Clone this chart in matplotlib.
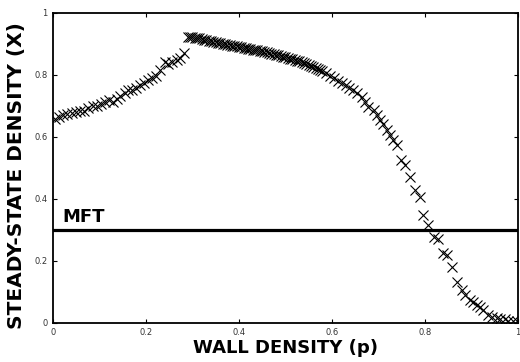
import matplotlib
matplotlib.use("Agg")
import matplotlib.pyplot as plt

# Wall density (p) and steady-state density (X)
p_left = [0.004, 0.013, 0.022, 0.031, 0.040, 0.049, 0.058, 0.067, 0.076, 0.085,
          0.094, 0.103, 0.112, 0.121, 0.128, 0.137, 0.145, 0.154, 0.162, 0.170,
          0.178, 0.187, 0.196, 0.205, 0.213, 0.221, 0.230, 0.241, 0.248, 0.255,
          0.266, 0.274, 0.281]
x_left = [0.657, 0.665, 0.670, 0.674, 0.676, 0.679, 0.682, 0.684, 0.692, 0.699,
          0.700, 0.706, 0.712, 0.718, 0.713, 0.722, 0.730, 0.742, 0.750, 0.752,
          0.757, 0.767, 0.772, 0.783, 0.788, 0.795, 0.815, 0.842, 0.835, 0.842,
          0.847, 0.855, 0.869]

p_mid = [0.290, 0.295, 0.300, 0.305, 0.310, 0.315, 0.320, 0.325, 0.330, 0.335,
         0.340, 0.345, 0.350, 0.355, 0.360, 0.365, 0.370, 0.375, 0.380, 0.385,
         0.390, 0.395, 0.400, 0.405, 0.410, 0.415, 0.420, 0.425, 0.430, 0.435,
         0.440, 0.445, 0.450, 0.455, 0.460, 0.465, 0.470, 0.475, 0.480, 0.485,
         0.490, 0.495, 0.500, 0.505, 0.510, 0.515, 0.520, 0.525, 0.530, 0.535,
         0.540, 0.545, 0.550, 0.555, 0.560, 0.565, 0.570, 0.575, 0.580]
x_mid = [0.922, 0.921, 0.920, 0.919, 0.918, 0.917, 0.916, 0.913, 0.912, 0.910,
         0.908, 0.907, 0.905, 0.903, 0.902, 0.900, 0.898, 0.897, 0.895, 0.894,
         0.892, 0.891, 0.890, 0.888, 0.887, 0.885, 0.884, 0.882, 0.881, 0.879,
         0.878, 0.876, 0.875, 0.873, 0.872, 0.870, 0.868, 0.866, 0.864, 0.862,
         0.860, 0.858, 0.856, 0.854, 0.852, 0.850, 0.848, 0.845, 0.843, 0.841,
         0.838, 0.835, 0.832, 0.829, 0.826, 0.822, 0.819, 0.816, 0.812]

p_right = [0.587, 0.596, 0.605, 0.613, 0.622, 0.630, 0.638, 0.646, 0.655, 0.664,
           0.672, 0.679, 0.690, 0.697, 0.704, 0.711, 0.718, 0.725, 0.732, 0.740,
           0.750, 0.758, 0.768, 0.779, 0.790, 0.797, 0.808, 0.819, 0.829, 0.840,
           0.847, 0.858, 0.869, 0.880, 0.887, 0.898, 0.905, 0.912, 0.919, 0.926,
           0.937, 0.944, 0.955, 0.962, 0.973, 0.980, 0.991, 0.998]
x_right = [0.806, 0.797, 0.789, 0.781, 0.772, 0.766, 0.758, 0.751, 0.740, 0.729,
           0.712, 0.697, 0.686, 0.670, 0.654, 0.640, 0.622, 0.606, 0.589, 0.573,
           0.525, 0.508, 0.471, 0.428, 0.406, 0.347, 0.315, 0.277, 0.270, 0.224,
           0.218, 0.181, 0.132, 0.105, 0.089, 0.073, 0.068, 0.057, 0.052, 0.041,
           0.025, 0.017, 0.014, 0.011, 0.011, 0.006, 0.004, 0.006]

mft_value = 0.3
mft_label = "MFT"
x_ticks = [0, 0.2, 0.4, 0.6, 0.8, 1]
x_tick_labels = ["0", "0.2", "0.4", "0.6", "0.8", "1"]
y_ticks = [0, 0.2, 0.4, 0.6, 0.8, 1]
y_tick_labels = ["0", "0.2", "0.4", "0.6", "0.8", "1"]

fig = plt.figure(figsize=(5.2, 3.62), dpi=100)
ax = fig.add_axes([0.102, 0.1086, 0.8934, 0.8564])

p_all = p_left + p_mid + p_right
x_all = x_left + x_mid + x_right
ax.plot(p_all, x_all, linestyle="none", marker="x", color="black",
        markersize=7.5, markeredgewidth=0.8)
ax.axhline(mft_value, color="black", linewidth=2.3)
ax.text(0.02, 0.326, mft_label, fontsize=13, fontweight="bold",
        family="DejaVu Sans", va="baseline", ha="left")

ax.set_xlim(0, 1)
ax.set_ylim(0, 1)
ax.set_xticks(x_ticks)
ax.set_xticklabels(x_tick_labels)
ax.set_yticks(y_ticks)
ax.set_yticklabels(y_tick_labels)
ax.tick_params(direction="in", length=3, width=0.8, labelsize=6,
               labelcolor="#333333", top=True, right=True, pad=4)
for s in ax.spines.values():
    s.set_linewidth(1.3)

ax.set_xlabel("WALL DENSITY (p)", fontsize=13, fontweight="bold", labelpad=1)
ax.set_ylabel("STEADY-STATE DENSITY (X)", fontsize=14.5, fontweight="bold")
ax.yaxis.set_label_coords(-0.058, 0.473)

fig.savefig("out.png", dpi=100)
